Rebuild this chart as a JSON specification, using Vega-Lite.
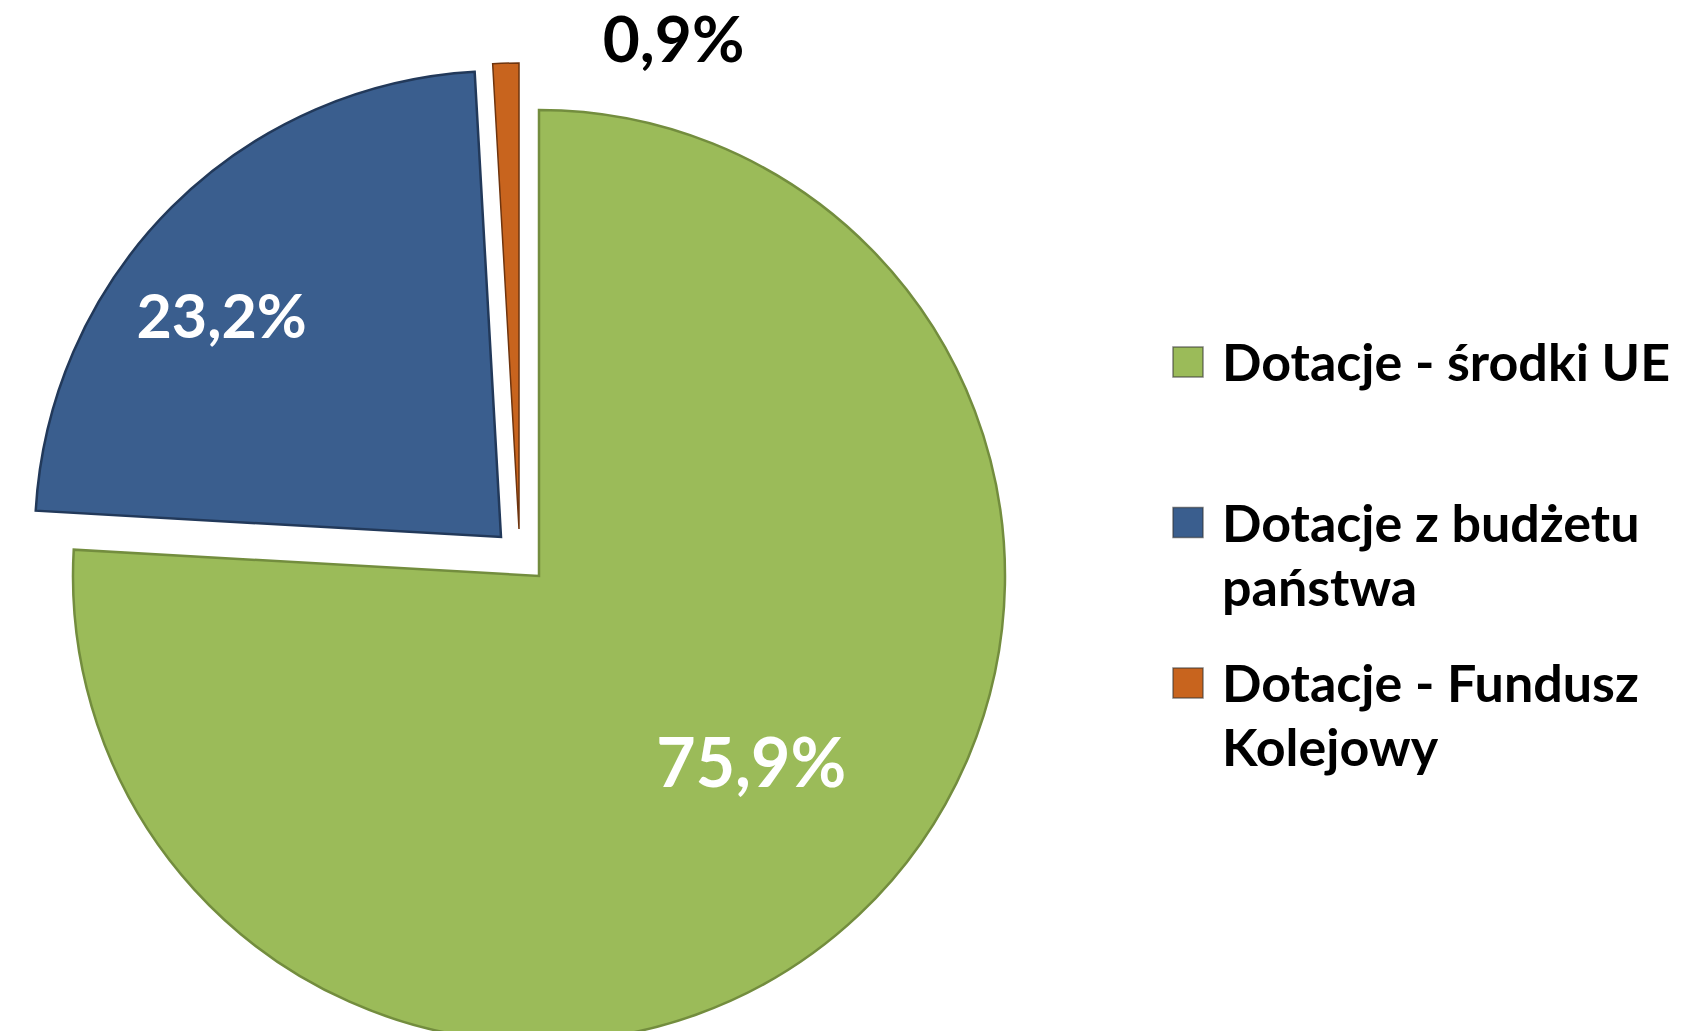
{
  "$schema": "https://vega.github.io/schema/vega-lite/v6.json",
  "padding": 0,
  "background": "white",
  "bounds": "flush",
  "spacing": 133,
  "config": {"view": {"stroke": null}},
  "data": {"values": [
    {"category": "Dotacje - środki UE", "value": 75.9, "label": "75,9%", "legendLabel": "Dotacje - środki UE"},
    {"category": "Dotacje z budżetu państwa", "value": 23.2, "label": "23,2%", "legendLabel": "Dotacje z budżetu\npaństwa"},
    {"category": "Dotacje - Fundusz Kolejowy", "value": 0.9, "label": "0,9%", "legendLabel": "Dotacje - Fundusz\nKolejowy"}
  ]},
  "transform": [
    {"window": [{"op": "row_number", "as": "idx"}]},
    {"stack": "value", "groupby": [], "sort": [{"field": "idx", "order": "ascending"}], "as": ["v0", "v1"]},
    {"calculate": "(datum.v0 + datum.v1) / 2", "as": "mid"}
  ],
  "hconcat": [
    {
      "width": 1040,
      "height": 1112,
      "layer": [
        {
          "transform": [{"filter": "datum.idx == 1"}],
          "mark": {"type": "arc", "outerRadius": 466, "xOffset": 19, "yOffset": 20, "stroke": "#738D3E", "strokeWidth": 2.5},
          "encoding": {
            "theta": {"field": "v0", "type": "quantitative", "stack": null, "scale": {"domain": [0, 100]}},
            "theta2": {"field": "v1"},
            "color": {"field": "category", "type": "nominal", "legend": null,
              "scale": {"domain": ["Dotacje - środki UE", "Dotacje z budżetu państwa", "Dotacje - Fundusz Kolejowy"], "range": ["#9BBB59", "#3A5E8E", "#C8641E"]}}
          }
        },
        {
          "transform": [{"filter": "datum.idx == 2"}],
          "mark": {"type": "arc", "outerRadius": 466, "xOffset": -19, "yOffset": -19, "stroke": "#22395A", "strokeWidth": 2.5},
          "encoding": {
            "theta": {"field": "v0", "type": "quantitative", "stack": null, "scale": {"domain": [0, 100]}},
            "theta2": {"field": "v1"},
            "color": {"field": "category", "type": "nominal", "legend": null}
          }
        },
        {
          "transform": [{"filter": "datum.idx == 3"}],
          "mark": {"type": "arc", "outerRadius": 466, "xOffset": -1, "yOffset": -27, "stroke": "#6E340E", "strokeWidth": 1.5},
          "encoding": {
            "theta": {"field": "v0", "type": "quantitative", "stack": null, "scale": {"domain": [0, 100]}},
            "theta2": {"field": "v1"},
            "color": {"field": "category", "type": "nominal", "legend": null}
          }
        },
        {
          "transform": [{"filter": "datum.idx == 1"}],
          "mark": {"type": "text", "radius": 290, "dx": 32, "dy": 0, "font": "Lato", "fontWeight": "bold", "fontSize": 68, "color": "white", "align": "center", "baseline": "middle"},
          "encoding": {
            "theta": {"field": "mid", "type": "quantitative", "stack": null, "scale": {"domain": [0, 100]}},
            "text": {"field": "label"}
          }
        },
        {
          "transform": [{"filter": "datum.idx == 2"}],
          "mark": {"type": "text", "radius": 340, "dx": -58, "dy": 4, "font": "Lato", "fontWeight": "bold", "fontSize": 61, "color": "white", "align": "center", "baseline": "middle"},
          "encoding": {
            "theta": {"field": "mid", "type": "quantitative", "stack": null, "scale": {"domain": [0, 100]}},
            "text": {"field": "label"}
          }
        },
        {
          "transform": [{"filter": "datum.idx == 3"}],
          "mark": {"type": "text", "radius": 513, "dx": 168, "dy": 0, "font": "Lato", "fontWeight": "bold", "fontSize": 64, "color": "black", "align": "center", "baseline": "middle"},
          "encoding": {
            "theta": {"field": "mid", "type": "quantitative", "stack": null, "scale": {"domain": [0, 100]}},
            "text": {"field": "label"}
          }
        }
      ]
    },
    {
      "width": 30,
      "height": 1045,
      "encoding": {
        "y": {"field": "idx", "type": "quantitative", "axis": null,
          "scale": {"domain": [-1.2555, 5.2555], "reverse": true, "zero": false, "nice": false}}
      },
      "layer": [
        {
          "mark": {"type": "square", "size": 900, "filled": true, "opacity": 1, "stroke": "#333333", "strokeWidth": 1.5, "strokeOpacity": 0.6},
          "encoding": {"color": {"field": "category", "type": "nominal", "legend": null}}
        },
        {
          "mark": {"type": "text", "align": "left", "baseline": "alphabetic", "dx": 34, "dy": 19, "font": "Lato", "fontWeight": "bold", "fontSize": 52, "lineHeight": 64, "lineBreak": "\n", "color": "black"},
          "encoding": {"text": {"field": "legendLabel"}}
        }
      ]
    }
  ]
}
